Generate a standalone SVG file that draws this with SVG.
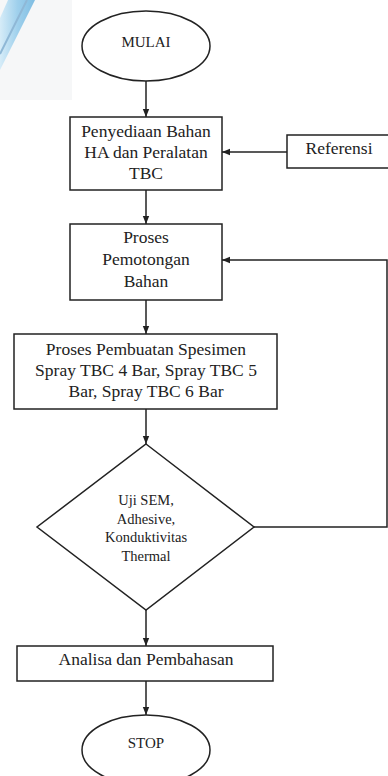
<svg xmlns="http://www.w3.org/2000/svg" width="388" height="776" viewBox="0 0 388 776">
<style>
.s{fill:#fff;stroke:#222;stroke-width:1.5}
.c{fill:none;stroke:#222;stroke-width:1.5}
text{font-family:'Liberation Serif','DejaVu Serif',serif;fill:#222;text-anchor:middle}
.t{font-size:17.5px}
.m{font-size:14.5px}
.o{font-size:15px}
</style>
<defs>
<marker id="a" viewBox="0 0 8 8" refX="8" refY="4" markerWidth="8" markerHeight="8" markerUnits="userSpaceOnUse" orient="auto">
<path d="M0,0.8 L8,4 L0,7.2 Z" fill="#222"/>
</marker>
<linearGradient id="g" x1="0" y1="0" x2="1" y2="0">
<stop offset="0" stop-color="#d6ecf8"/>
<stop offset="0.5" stop-color="#9fd0ec"/>
<stop offset="1" stop-color="#7fbde2"/>
</linearGradient>
</defs>
<rect x="0" y="0" width="388" height="776" fill="#fff"/>
<rect x="0" y="0" width="72" height="100" fill="#f6f7f8"/>
<g id="watermark">
<polygon points="8,0 35,0 0,70 0,18" fill="url(#g)"/>
<line x1="27" y1="0" x2="0" y2="54" stroke="#8fb8d6" stroke-width="2"/>
</g>
<g id="connectors">
<line class="c" x1="146" y1="81" x2="146" y2="117" marker-end="url(#a)"/>
<line class="c" x1="287" y1="152" x2="222" y2="152" marker-end="url(#a)"/>
<line class="c" x1="146" y1="190" x2="146" y2="224" marker-end="url(#a)"/>
<line class="c" x1="146" y1="300" x2="146" y2="334" marker-end="url(#a)"/>
<line class="c" x1="146" y1="409" x2="146" y2="444" marker-end="url(#a)"/>
<polyline class="c" points="254,527 387,527 387,260 222,260" marker-end="url(#a)"/>
<line class="c" x1="146" y1="610" x2="146" y2="646" marker-end="url(#a)"/>
<line class="c" x1="146" y1="681" x2="146" y2="715" marker-end="url(#a)"/>
</g>
<g id="mulai">
<ellipse class="s" cx="146" cy="46" rx="64" ry="35"/>
<text class="o" x="146" y="47">MULAI</text>
</g>
<g id="penyediaan">
<rect class="s" x="70" y="117" width="152" height="73"/>
<text class="t" x="146" y="137">Penyediaan Bahan</text>
<text class="t" x="146" y="158">HA dan Peralatan</text>
<text class="t" x="146" y="179">TBC</text>
</g>
<g id="referensi">
<rect class="s" x="287" y="135" width="110" height="33"/>
<text class="t" x="339" y="154">Referensi</text>
</g>
<g id="pemotongan">
<rect class="s" x="70" y="224" width="152" height="76"/>
<text class="t" x="146" y="243">Proses</text>
<text class="t" x="146" y="265">Pemotongan</text>
<text class="t" x="146" y="287">Bahan</text>
</g>
<g id="pembuatan">
<rect class="s" x="14" y="334" width="263" height="75"/>
<text class="t" x="146" y="355">Proses Pembuatan Spesimen</text>
<text class="t" x="146" y="376">Spray TBC 4 Bar, Spray TBC 5</text>
<text class="t" x="146" y="397">Bar, Spray TBC 6 Bar</text>
</g>
<g id="uji">
<polygon class="s" points="146,444 254,527 146,610 37,527"/>
<text class="m" x="146" y="505">Uji SEM,</text>
<text class="m" x="146" y="524">Adhesive,</text>
<text class="m" x="146" y="542">Konduktivitas</text>
<text class="m" x="146" y="561">Thermal</text>
</g>
<g id="analisa">
<rect class="s" x="17" y="646" width="256" height="35"/>
<text class="t" x="146" y="665">Analisa dan Pembahasan</text>
</g>
<g id="stop">
<ellipse class="s" cx="146" cy="750" rx="64" ry="35"/>
<text class="o" x="146" y="748">STOP</text>
</g>
</svg>
